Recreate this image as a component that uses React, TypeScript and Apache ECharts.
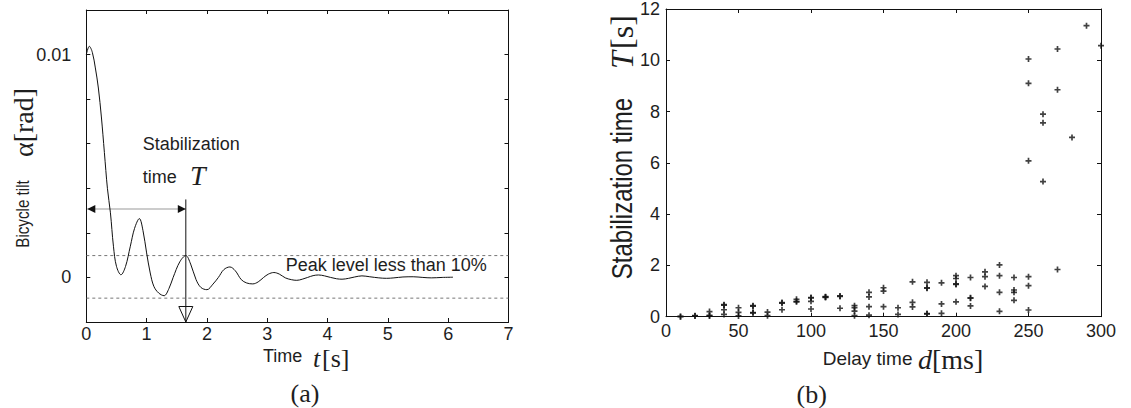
import React, { useEffect, useRef } from "react";
import * as echarts from "echarts";

// ---- (a) bicycle tilt response ----
const timeS = [
  0, 0.05, 0.1, 0.15, 0.2, 0.25, 0.3, 0.35, 0.4, 0.45, 0.5, 0.575,
  0.65, 0.73, 0.8, 0.88, 0.94, 1.0, 1.06, 1.12, 1.2, 1.29, 1.37, 1.44,
  1.55, 1.65, 1.73, 1.82, 1.9, 2.0, 2.1, 2.19, 2.28, 2.38, 2.47, 2.57,
  2.66, 2.76, 2.85, 2.94, 3.02, 3.11, 3.2, 3.3, 3.4, 3.49, 3.58, 3.67,
  3.76, 3.85, 3.95, 4.05, 4.15, 4.24, 4.35, 4.45, 4.57, 4.7, 4.85, 4.98,
  5.1, 5.25, 5.42, 5.58, 5.72, 5.9, 6.08,
];
const tiltRad = [
  0.0100, 0.01037, 0.0101, 0.0094, 0.0085, 0.0072, 0.0056, 0.0040, 0.0029, 0.0014, 0.0005, 0.00012,
  0.00049, 0.0014, 0.0022, 0.00264, 0.0021, 0.0011, 0.0002, -0.0004, -0.0007, -0.00082, -0.0005, 0.0,
  0.0007, 0.00098, 0.0006, -0.0001, -0.00045, -0.00055, -0.0003, 0.0, 0.00035, 0.00047, 0.0003, -0.0001,
  -0.00025, -0.00029, -0.0002, 0.0, 0.00015, 0.00022, 0.00015, -0.00002, -0.0001, -0.00013, -0.00008, 0.0,
  0.00008, 0.00011, 0.00007, 0.0, -0.00006, -0.00008, -0.00004, 0.00002, 0.00007, 0.00003, -0.00002, -0.00004,
  -0.00002, 0.00002, 0.00003, 0.0, -0.00002, 0.0, 0.00001,
];
const peakBand = [0.00098, -0.00093];
const timeRange = [0, 7];
const stabTime = 1.65;
const arrowLevel = 0.00307;
const arrowTop = 0.0035;
const tiltLabels = ["0", "0.01"];

// ---- (b) stabilization time vs delay ----
const delayPoints: [number, number][] = [
  [10, 0.0], [10, 0.01],
  [20, 0.03], [20, 0.04],
  [30, 0.03], [30, 0.05], [30, 0.2],
  [40, 0.45], [40, 0.47], [40, 0.27], [40, 0.09],
  [50, 0.35], [50, 0.17], [50, 0.03],
  [60, 0.43], [60, 0.41], [60, 0.16], [60, 0.15],
  [70, 0.18], [70, 0.04],
  [80, 0.55], [80, 0.53], [80, 0.27],
  [90, 0.68], [90, 0.6], [90, 0.58],
  [100, 0.75], [100, 0.73], [100, 0.6], [100, 0.3],
  [110, 0.77], [110, 0.75], [110, 0.78],
  [120, 0.81], [120, 0.79], [120, 0.33],
  [130, 0.43], [130, 0.35], [130, 0.22], [130, 0.04],
  [140, 0.95], [140, 0.77], [140, 0.39], [140, 0.06],
  [150, 1.13], [150, 1.0], [150, 0.39],
  [160, 0.35], [160, 0.09],
  [170, 1.36], [170, 0.56], [170, 0.38],
  [180, 1.34], [180, 1.13], [180, 1.11], [180, 0.12], [180, 0.11],
  [190, 1.32], [190, 0.5], [190, 0.13],
  [200, 1.6], [200, 1.49], [200, 1.28], [200, 1.26], [200, 0.58],
  [210, 1.53], [210, 0.74], [210, 0.72], [210, 0.42],
  [220, 1.75], [220, 1.56], [220, 1.18],
  [230, 2.02], [230, 1.6], [230, 0.95], [230, 0.21],
  [240, 1.53], [240, 1.04], [240, 0.95], [240, 0.64],
  [250, 10.05], [250, 9.1], [250, 6.08], [250, 1.56], [250, 1.21], [250, 0.26],
  [260, 7.9], [260, 7.56], [260, 5.27],
  [270, 10.44], [270, 8.85], [270, 1.84],
  [280, 6.99],
  [290, 11.35],
  [300, 10.57],
];

const SANS = "'Liberation Sans', Arial, sans-serif";
const SERIF = "'Liberation Serif', 'Times New Roman', serif";
const INK = "#1e1e1e";
const PLUS = "path://M3.6,0H6.4V3.6H10V6.4H6.4V10H3.6V6.4H0V3.6H3.6Z";

function frameAxis(extra: any) {
  return {
    type: "value",
    axisLine: { show: true, onZero: false, lineStyle: { color: "#111", width: 1 } },
    axisTick: { show: true, inside: true, length: 4, lineStyle: { color: "#111", width: 1 } },
    splitLine: { show: false },
    ...extra,
  };
}

function txt(x: number, y: number, text: string, o: any = {}) {
  return {
    type: "text",
    x,
    y,
    rotation: o.rotation || 0,
    scaleX: o.scaleX || 1,
    silent: true,
    style: {
      text,
      fontSize: o.size || 18,
      fontFamily: o.family || SANS,
      fontStyle: o.italic ? "italic" : "normal",
      fill: INK,
      align: o.align || "left",
      verticalAlign: "middle",
    },
  };
}

export default function App() {
  const ref = useRef<HTMLDivElement>(null);
  useEffect(() => {
    if (!ref.current) return;
    const chart = echarts.init(ref.current, undefined, { renderer: "svg" });
    const labelA = { fontSize: 18, fontFamily: SANS, color: INK, lineHeight: 14 };
    chart.setOption({
      animation: false,
      grid: [
        { left: 86.3, top: 10, width: 422.2, height: 312 },
        { left: 666, top: 8.5, width: 435, height: 308.2 },
      ],
      xAxis: [
        frameAxis({ gridIndex: 0, position: "bottom", min: 0, max: 7, interval: 1, axisLabel: { ...labelA, margin: 5 } }),
        frameAxis({ gridIndex: 0, position: "top", min: 0, max: 7, interval: 1, axisLabel: { show: false } }),
        frameAxis({ gridIndex: 1, position: "bottom", min: 0, max: 300, interval: 50, axisLabel: { ...labelA, margin: 7 } }),
        frameAxis({ gridIndex: 1, position: "top", min: 0, max: 300, interval: 50, axisLabel: { show: false } }),
      ],
      yAxis: [
        frameAxis({
          gridIndex: 0, position: "left", min: -0.002, max: 0.012, interval: 0.002,
          axisLabel: {
            ...labelA, margin: 15,
            formatter: (v: number) => (Math.abs(v) < 1e-9 ? tiltLabels[0] : Math.abs(v - 0.01) < 1e-9 ? tiltLabels[1] : ""),
          },
        }),
        frameAxis({ gridIndex: 0, position: "right", min: -0.002, max: 0.012, interval: 0.002, axisLabel: { show: false } }),
        frameAxis({ gridIndex: 1, position: "left", min: 0, max: 12, interval: 2, axisLabel: { ...labelA, margin: 6 } }),
        frameAxis({ gridIndex: 1, position: "right", min: 0, max: 12, interval: 2, axisLabel: { show: false } }),
      ],
      series: [
        {
          type: "line",
          xAxisIndex: 0,
          yAxisIndex: 0,
          data: timeS.map((t, i) => [t, tiltRad[i]]),
          symbol: "none",
          smooth: 0.35,
          lineStyle: { color: "#111", width: 1 },
          z: 3,
        },
        ...peakBand.map((v) => ({
          type: "line",
          xAxisIndex: 0,
          yAxisIndex: 0,
          data: timeRange.map((t) => [t, v]),
          symbol: "none",
          silent: true,
          lineStyle: { type: [3, 3], color: "#666", width: 0.9 },
          z: 2,
        })),
        {
          type: "scatter",
          xAxisIndex: 2,
          yAxisIndex: 2,
          symbol: PLUS,
          symbolSize: 6,
          clip: false,
          itemStyle: { color: "#111" },
          data: delayPoints,
        },
      ],
    });

    const px = (x: number, y: number) => chart.convertToPixel({ seriesIndex: 0 }, [x, y]) as number[];
    const a0 = px(0, arrowLevel);
    const aT = px(stabTime, arrowLevel);
    const vTop = px(stabTime, arrowTop);
    const vBot = px(stabTime, -0.002);
    const ah = 8;
    const aw = 4;

    chart.setOption({
      graphic: [
        // (a) annotations
        { type: "line", silent: true, shape: { x1: a0[0] + 1, y1: a0[1], x2: aT[0], y2: aT[1] }, style: { stroke: "#999", lineWidth: 1 } },
        { type: "polygon", silent: true, shape: { points: [[a0[0] + 1, a0[1]], [a0[0] + 1 + ah, a0[1] - aw], [a0[0] + 1 + ah, a0[1] + aw]] }, style: { fill: "#111" } },
        { type: "polygon", silent: true, shape: { points: [[aT[0], aT[1]], [aT[0] - ah, aT[1] - aw], [aT[0] - ah, aT[1] + aw]] }, style: { fill: "#111" } },
        { type: "line", silent: true, shape: { x1: vTop[0], y1: vTop[1], x2: vBot[0], y2: vBot[1] }, style: { stroke: "#111", lineWidth: 1 } },
        { type: "polygon", silent: true, shape: { points: [[vBot[0] - 7, vBot[1] - 15.5], [vBot[0] + 7, vBot[1] - 15.5], [vBot[0], vBot[1]]] }, style: { fill: "none", stroke: "#111", lineWidth: 1 } },
        txt(142.7, 144, "Stabilization"),
        txt(142.7, 177, "time"),
        txt(190, 175, "T", { family: SERIF, size: 28, italic: true }),
        txt(285.7, 265, "Peak level less than 10%"),
        txt(22.7, 214, "Bicycle tilt", { rotation: Math.PI / 2, scaleX: 0.8, size: 19, align: "center" }),
        txt(23, 122.5, "α[rad]", { rotation: Math.PI / 2, family: SERIF, size: 28, align: "center" }),
        txt(263, 356, "Time"),
        txt(313, 358, "t", { family: SERIF, size: 26, italic: true }),
        txt(322, 358, "[s]", { family: SERIF, size: 26 }),
        txt(305, 393, "(a)", { family: SERIF, size: 26, align: "center" }),
        // (b) labels
        txt(621.7, 188.5, "Stabilization time", { rotation: Math.PI / 2, scaleX: 0.8, size: 30, align: "center" }),
        txt(621.7, 60, "T", { rotation: Math.PI / 2, family: SERIF, size: 32, italic: true, align: "center" }),
        txt(621.7, 32, "[s]", { rotation: Math.PI / 2, family: SERIF, size: 32, align: "center" }),
        txt(822.7, 358, "Delay time", { size: 19 }),
        txt(918, 359, "d", { family: SERIF, size: 28, italic: true }),
        txt(932, 359, "[ms]", { family: SERIF, size: 28 }),
        txt(811.7, 394, "(b)", { family: SERIF, size: 26, align: "center" }),
      ],
    });

    return () => chart.dispose();
  }, []);
  return <div ref={ref} style={{ position: "fixed", left: 0, top: 0, width: 1131, height: 408, background: "#fff" }} />;
}
